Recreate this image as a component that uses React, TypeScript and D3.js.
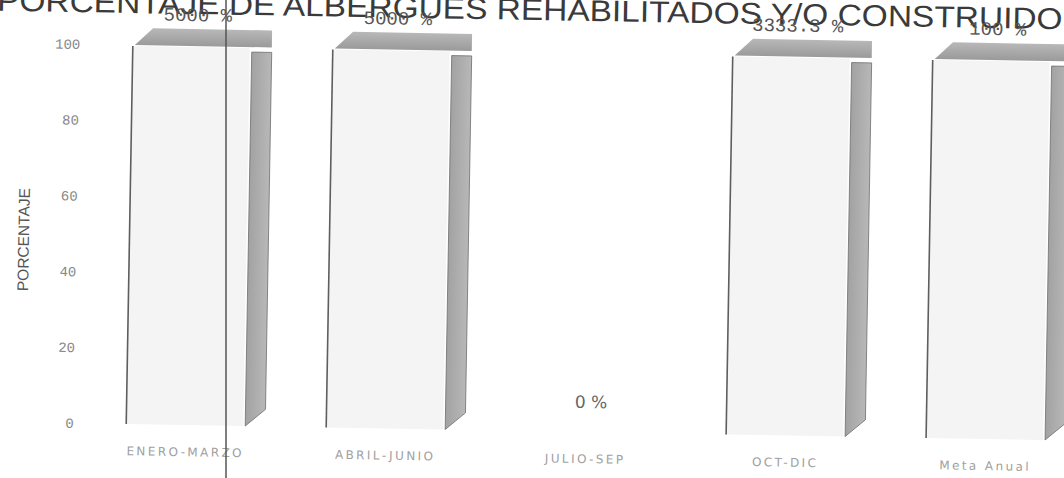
import React from 'react';
import * as d3 from 'd3';

const categories = ['ENERO-MARZO', 'ABRIL-JUNIO', 'JULIO-SEP', 'OCT-DIC', 'Meta Anual'];
const values = [5000, 5000, 0, 3333.3, 100];
const valueLabels = ['5000 %', '5000 %', '0 %', '3333.3 %', '100 %'];
const yTicks = [0, 20, 40, 60, 80, 100];

const W = 1064;
const H = 478;

export default function App() {
  // chart is laid out straight and then tilted a little, like the scanned page
  const x = d3.scaleBand<string>()
    .domain(categories)
    .range([89, 1089])
    .paddingInner(0.405)
    .paddingOuter(0.2025);

  const y = d3.scaleLinear().domain([0, 100]).range([431, 52]).clamp(true);

  const dx = 20;
  const dy = 17;
  const bw = x.bandwidth();

  return (
    <svg
      width={W}
      height={H}
      style={{ position: 'absolute', left: 0, top: 0, background: '#fff' }}
    >
      <defs>
        <linearGradient id="topFace" x1="0" y1="0" x2="0" y2="1">
          <stop offset="0%" stopColor="#b8b8b8" />
          <stop offset="100%" stopColor="#9a9a9a" />
        </linearGradient>
        <linearGradient id="sideFace" x1="0" y1="0" x2="1" y2="0">
          <stop offset="0%" stopColor="#a2a2a2" />
          <stop offset="100%" stopColor="#b8b8b8" />
        </linearGradient>
      </defs>
      <rect width={W} height={H} fill="#fff" />

      <g transform="rotate(1, 532, 239)">
        {/* title */}
        <text
          x={-7}
          y={20}
          textLength={1088}
          lengthAdjust="spacingAndGlyphs"
          fontFamily="Liberation Sans, Arial, sans-serif"
          fontSize={30}
          fill="#3a3a3a"
        >
          PORCENTAJE DE ALBERGUES REHABILITADOS Y/O CONSTRUIDOS
        </text>

        {/* y axis title */}
        <text
          transform={`translate(29, ${y(50) + 7}) rotate(-90)`}
          textAnchor="middle"
          fontFamily="Liberation Sans, Arial, sans-serif"
          fontSize={15.5}
          fill="#555"
        >
          PORCENTAJE
        </text>

        {/* y ticks */}
        {yTicks.map(t => (
          <text
            key={t}
            x={77}
            y={y(t)}
            dy="0.35em"
            textAnchor="end"
            fontFamily="Liberation Mono, monospace"
            fontSize={14}
            fill="#888"
          >
            {t}
          </text>
        ))}

        {/* bars */}
        {categories.map((c, i) => {
          const x0 = x(c)!;
          const x1 = x0 + bw;
          const y0 = y(0);
          const yt = y(values[i]);
          const cx = x0 + bw / 2;
          if (values[i] <= 0) {
            return (
              <text
                key={c}
                x={cx + 5}
                y={y0 - 24}
                textAnchor="middle"
                fontFamily="DejaVu Sans, sans-serif"
                fontSize={17}
                fill="#666"
              >
                {valueLabels[i]}
              </text>
            );
          }
          return (
            <g key={c}>
              <polygon
                points={`${x1},${yt + 5} ${x1 + dx},${yt + 5} ${x1 + dx},${y0 - dy} ${x1},${y0}`}
                fill="url(#sideFace)"
                stroke="#6e6e6e"
                strokeWidth={0.8}
              />
              <polygon
                points={`${x0 + 2},${yt} ${x0 + dx},${yt - dy} ${x1 + dx},${yt - dy} ${x1 + dx},${yt}`}
                fill="url(#topFace)"
              />
              <rect x={x0} y={yt + 1} width={bw - 2} height={y0 - yt - 1} fill="#f4f4f4" />
              <line x1={x0} x2={x0} y1={yt + 1} y2={y0} stroke="#5e5e5e" strokeWidth={1.6} />
              <text
                x={cx + 5}
                y={yt - dy - 8}
                textAnchor="middle"
                fontFamily="Liberation Mono, monospace"
                fontSize={19}
                fill="#555"
              >
                {valueLabels[i]}
              </text>
            </g>
          );
        })}

        {/* category labels */}
        {categories.map(c => (
          <text
            key={c}
            x={x(c)! + bw / 2}
            y={458}
            dy="0.35em"
            textAnchor="middle"
            fontFamily="DejaVu Sans, sans-serif"
            fontSize={12}
            letterSpacing={2.4}
            fill="#a0a0a0"
          >
            {c}
          </text>
        ))}
      </g>

      {/* vertical scan line */}
      <line x1={226} x2={226} y1={0} y2={H} stroke="#555" strokeWidth={1.5} />
    </svg>
  );
}
